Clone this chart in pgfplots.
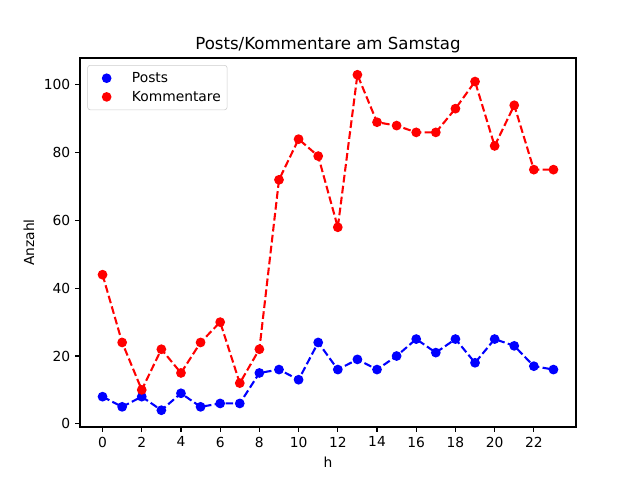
\documentclass[border=0pt]{standalone}
\usepackage{pgfplots}
\pgfplotsset{compat=1.18}
\usepackage{fontspec}
\setmainfont{DejaVu Sans}
\begin{document}
\begin{tikzpicture}
\path[use as bounding box] (-0.80in,-0.53in) rectangle (5.60in,4.27in);
\begin{axis}[
  at={(0,0)}, anchor=south west,
  scale only axis, width=4.96in, height=3.69in,
  xmin=-1.15, xmax=24.15, ymin=-0.95, ymax=107.95,
  xtick={0,2,...,22}, ytick={0,20,...,100},
  xtick pos=bottom, ytick pos=left,
  tick align=outside, major tick length=3.5pt,
  every tick/.style={black, line width=0.8pt},
  axis line style={line width=0.8pt},
  /pgf/number format/assume math mode=true,
  tick label style={font=\fontsize{10}{12}\selectfont},
  label style={font=\fontsize{10}{12}\selectfont},
  xlabel={h}, ylabel={Anzahl},
  title={Posts/Kommentare am Samstag},
  title style={font=\fontsize{12}{14}\selectfont, yshift=-6pt},
  legend style={at={(0.0147,0.981)}, anchor=north west, draw=black!20, rounded corners=2pt,
    font=\fontsize{10}{12}\selectfont, row sep=0pt, inner xsep=2.6pt, inner ysep=2.6pt,
    cells={text height=8pt, text depth=2.5pt, inner ysep=2.2pt}},
  legend cell align=left,
]
\addplot[blue, dashed, dash pattern=on 5.55pt off 2.4pt, line width=1.5pt, mark=*, mark size=3pt, mark options={solid, line width=1pt}, forget plot] coordinates {
(0,8)(1,5)(2,8)(3,4)(4,9)(5,5)(6,6)(7,6)(8,15)(9,16)(10,13)(11,24)(12,16)(13,19)(14,16)(15,20)(16,25)(17,21)(18,25)(19,18)(20,25)(21,23)(22,17)(23,16)};
\addplot[red, dashed, dash pattern=on 5.55pt off 2.4pt, line width=1.5pt, mark=*, mark size=3pt, mark options={solid, line width=1pt}, forget plot] coordinates {
(0,44)(1,24)(2,10)(3,22)(4,15)(5,24)(6,30)(7,12)(8,22)(9,72)(10,84)(11,79)(12,58)(13,103)(14,89)(15,88)(16,86)(17,86)(18,93)(19,101)(20,82)(21,94)(22,75)(23,75)};
\addlegendimage{legend image code/.code={\path[draw=none, fill=none] (0,-3pt) rectangle (0.38in,3pt); \fill[blue, draw=none] (0.155in,0) circle (3.5pt);}}
\addlegendentry{Posts}
\addlegendimage{legend image code/.code={\path[draw=none, fill=none] (0,-3pt) rectangle (0.38in,3pt); \fill[red, draw=none] (0.155in,0) circle (3.5pt);}}
\addlegendentry{Kommentare}
\end{axis}
\end{tikzpicture}
\end{document}
